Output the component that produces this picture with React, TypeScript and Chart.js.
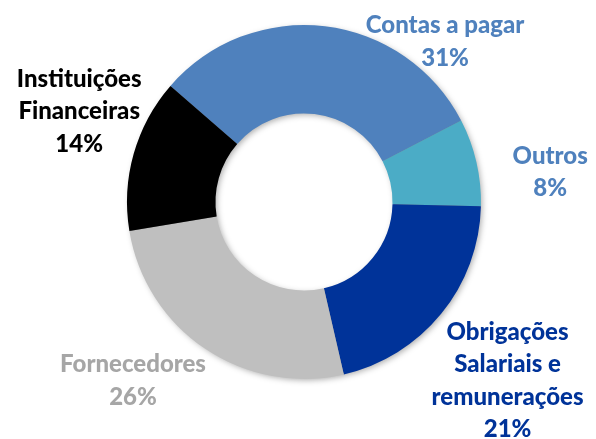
import React, { useEffect, useRef } from "react";
import Chart from "chart.js/auto";

const categories: string[][] = [
  ["Contas a pagar"],
  ["Outros"],
  ["Obrigações", "Salariais e", "remunerações"],
  ["Fornecedores"],
  ["Instituições", "Financeiras"],
];
const values: number[] = [31, 8, 21, 26, 14];
const sliceColors: string[] = ["#4F81BD", "#4BACC6", "#003399", "#BFBFBF", "#000000"];
const labelColors: string[] = ["#4F81BD", "#4F81BD", "#003399", "#A6A6A6", "#000000"];
// label block centre, as fractions of the outer radius from the doughnut centre
const labelOffsets: [number, number][] = [
  [0.797, -0.906],
  [1.391, -0.167],
  [1.15, 1.011],
  [-0.966, 1.011],
  [-1.27, -0.51],
];

const FONT = "900 24px Lato, 'Open Sans', sans-serif";
const LINE_H = 32.5;

const shadowPlugin = {
  id: "ringShadow",
  beforeDatasetsDraw(chart: any) {
    const meta = chart.getDatasetMeta(0);
    const arc = meta.data[0];
    if (!arc) return;
    const { x, y, innerRadius, outerRadius } = arc.getProps(["x", "y", "innerRadius", "outerRadius"], true);
    const ctx = chart.ctx;
    ctx.save();
    ctx.shadowColor = "rgba(0,0,0,0.35)";
    ctx.shadowBlur = 6;
    ctx.shadowOffsetX = 2;
    ctx.shadowOffsetY = 2;
    ctx.beginPath();
    ctx.arc(x, y, outerRadius - 1, 0, Math.PI * 2);
    ctx.arc(x, y, innerRadius + 1, 0, Math.PI * 2, true);
    ctx.closePath();
    ctx.fillStyle = "#888";
    ctx.fill();
    ctx.restore();
  },
};

const labelPlugin = {
  id: "outerLabels",
  afterDatasetsDraw(chart: any) {
    const meta = chart.getDatasetMeta(0);
    const ctx = chart.ctx;
    const data = chart.data.datasets[0].data as number[];
    const total = data.reduce((a, b) => a + b, 0);
    ctx.save();
    ctx.font = FONT;
    ctx.textAlign = "center";
    ctx.textBaseline = "middle";
    meta.data.forEach((arc: any, i: number) => {
      const { x, y, outerRadius } = arc.getProps(["x", "y", "outerRadius"], true);
      const lines = [...(chart.data.labels[i] as string[]), Math.round((data[i] / total) * 100) + "%"];
      const cx = x + labelOffsets[i][0] * outerRadius;
      const cy = y + labelOffsets[i][1] * outerRadius;
      const startY = cy - ((lines.length - 1) * LINE_H) / 2;
      ctx.fillStyle = labelColors[i];
      lines.forEach((ln, k) => ctx.fillText(ln, cx, startY + k * LINE_H));
    });
    ctx.restore();
  },
};

export default function App() {
  const ref = useRef<HTMLCanvasElement | null>(null);
  useEffect(() => {
    document.body.style.margin = "0";
    if (!ref.current) return;
    const chart = new Chart(ref.current, {
      type: "doughnut",
      data: {
        labels: categories as any,
        datasets: [
          {
            data: values,
            backgroundColor: sliceColors,
            borderWidth: 0,
          },
        ],
      },
      options: {
        animation: false,
        responsive: false,
        maintainAspectRatio: false,
        cutout: "50%",
        rotation: -49,
        layout: { padding: { left: 127, right: 115, top: 25, bottom: 60 } },
        plugins: {
          legend: { display: false },
          tooltip: { enabled: false },
        },
      },
      plugins: [shadowPlugin, labelPlugin],
    });
    return () => chart.destroy();
  }, []);
  return (
    <div style={{ width: 596, height: 439, background: "#fff" }}>
      <canvas ref={ref} width={596} height={439} style={{ display: "block" }} />
    </div>
  );
}
